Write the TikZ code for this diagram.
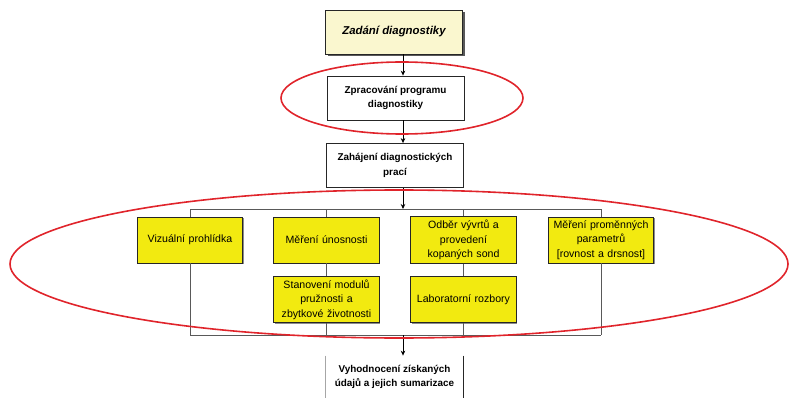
\documentclass[tikz,border=0pt]{standalone}
\usepackage{fontspec}
\setmainfont{Liberation Sans}
\usetikzlibrary{arrows.meta,shadows}

\definecolor{paleyellow}{HTML}{FAF7CF}
\definecolor{boxyellow}{HTML}{F2EA10}
\definecolor{ringred}{HTML}{E0242B}

\begin{document}
\begin{tikzpicture}[x=1pt,y=-1pt,
	box/.style={draw=black!85, line width=0.8pt, minimum width=137pt, minimum height=44pt, align=center, font=\fontsize{9.9}{14.5}\selectfont\bfseries},
	task/.style={draw=black!85, line width=0.8pt, fill=boxyellow, minimum width=101pt, minimum height=46pt, text width=99pt, align=center, font=\fontsize{10.6}{14.5}\selectfont, drop shadow={shadow xshift=1pt, shadow yshift=-1pt, fill=black!45, opacity=1}},
	link/.style={draw=black!65, line width=0.7pt},
	arr/.style={-{Stealth[length=5pt,width=4.5pt]}, line width=0.7pt},
	ring/.style={draw=ringred, line width=1.6pt}]
	\useasboundingbox (0,0) rectangle (789,398);
	
	\node[box, fill=paleyellow, font=\fontsize{11.4}{13}\selectfont\bfseries\itshape, drop shadow={shadow xshift=2.5pt, shadow yshift=-2.5pt, fill=black!65, opacity=1}] (zadani) at (394,32) {Zadání diagnostiky};
	\node[box, fill=white] (program) at (395.5,98) {Zpracování programu\\diagnostiky};
	\node[box, fill=white] (zahajeni) at (395,165.5) {Zahájení diagnostických\\prací};
	\node[box, draw=none, minimum height=42pt] (vyhodnoceni) at (394.5,377) {Vyhodnocení získaných\\údajů a jejich sumarizace};
	\draw[black!35, line width=0.7pt] (vyhodnoceni.north west) -- (vyhodnoceni.south west);
	\draw[black!85, line width=0.7pt] (vyhodnoceni.north east) -- (vyhodnoceni.south east);
	
	\node[task] (vizual) at (190,240) {Vizuální prohlídka};
	\node[task] (unosnost) at (326.5,240) {Měření únosnosti};
	\node[task] (odber) at (463.5,240) {Odběr vývrtů a\\provedení\\kopaných sond};
	\node[task] (parametry) at (601,240) {Měření proměnných\\parametrů\\{[}rovnost a drsnost{]}};
	\node[task] (moduly) at (326.5,299.5) {Stanovení modulů\\pružnosti a\\zbytkové životnosti};
	\node[task] (rozbory) at (463.5,299.5) {Laboratorní rozbory};
	
	\coordinate (osa) at (403,0);
	\coordinate (rozdel) at (403,209);
	\coordinate (spoj) at (403,335);
	
	\draw[link] (vizual.north |- rozdel) -- (parametry.north |- rozdel);
	\draw[link] (vizual.south |- spoj) -- (parametry.south |- spoj);
	\foreach \t/\b in {vizual/vizual, unosnost/moduly, odber/rozbory, parametry/parametry}
	{
		\draw[link] (\t.north |- rozdel) -- (\t.north);
		\draw[link] (\b.south) -- (\b.south |- spoj);
	}
	\draw[link] (unosnost.south) -- (moduly.north);
	\draw[link] (odber.south) -- (rozbory.north);
	
	\draw[arr] (zadani.south -| osa) -- (program.north -| osa);
	\draw[arr] (program.south -| osa) -- (zahajeni.north -| osa);
	\draw[arr] (zahajeni.south -| osa) -- (rozdel);
	\draw[arr] (spoj) -- (vyhodnoceni.north -| osa);
	
	\draw[ring] (402,98) ellipse [x radius=121pt, y radius=36pt];
	\draw[ring] (399,264) ellipse [x radius=389pt, y radius=74pt];
\end{tikzpicture}
\end{document}
